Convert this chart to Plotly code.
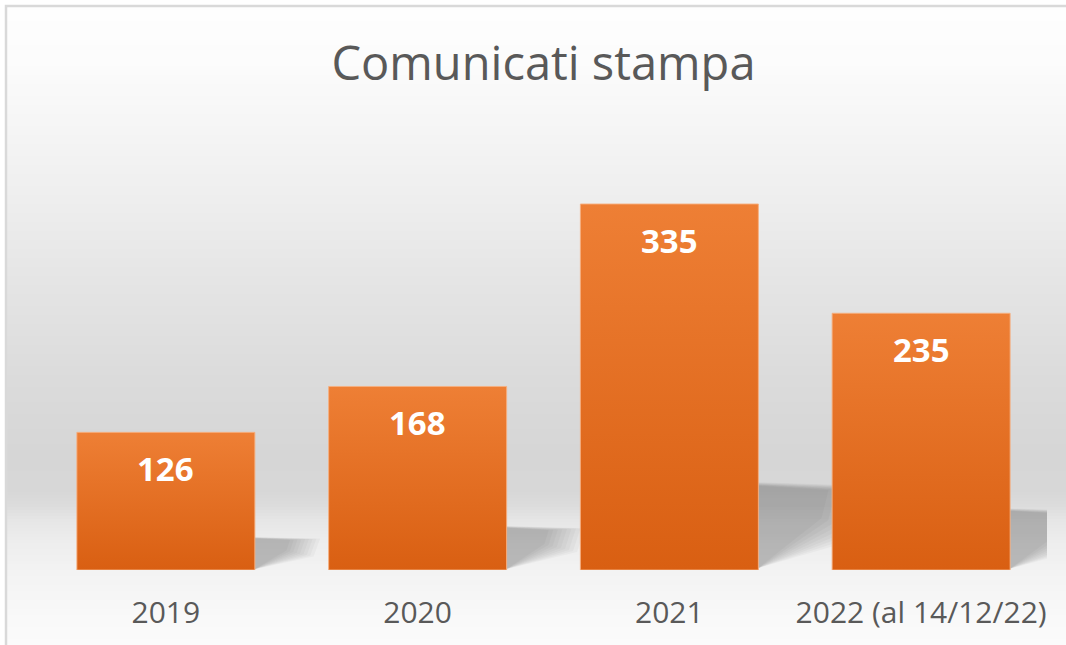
import numpy as np
import plotly.graph_objects as go

# ---------------- data ----------------
categories = ["2019", "2020", "2021", "2022 (al 14/12/22)"]
values = [126, 168, 335, 235]
value_labels = ["126", "168", "335", "235"]
title_text = "Comunicati stampa"

# ---------------- layout constants ----------------
W, H = 1066, 645
ML, MR, MT, MB = 40, 19, 133, 75
PW, PH = W - ML - MR, H - MT - MB
YMAX = 400
BAR_W = 0.707
FONT = "Open Sans"
TEXT_GREY = "#595959"
BAR_TOP = "#EE7F35"
BAR_BOTTOM = "#D95F12"


def paper_y(pix):
    return (H - MB - pix) / PH


def paper_x(pix):
    return (pix - ML) / PW


shapes = []

# background vertical gradient (Excel-like), drawn as thin strips
stops_y = [6, 60, 100, 200, 300, 380, 450, 490, 505, 520, 545, 580, 620, 645]
stops_g = [254, 252, 248, 238, 227, 219, 214, 215, 220, 230, 238, 244, 249, 251]
step = 3
for y in range(6, H, step):
    g = int(round(np.interp(y + step / 2, stops_y, stops_g)))
    shapes.append(dict(type="rect", xref="paper", yref="paper",
                       x0=paper_x(6), x1=paper_x(W + 60),
                       y0=paper_y(y + step + 0.5), y1=paper_y(y),
                       fillcolor=f"rgb({g},{g},{g})", line=dict(width=0),
                       layer="below"))

# chart border (left and top edges visible)
shapes.append(dict(type="rect", xref="paper", yref="paper",
                   x0=paper_x(6), x1=paper_x(W + 60),
                   y0=paper_y(H + 60), y1=paper_y(6),
                   line=dict(color="#d9d9d9", width=2.5),
                   fillcolor="rgba(0,0,0,0)", layer="below"))

# soft perspective shadows to the right of each bar (layered for blur)
for i, v in enumerate(values):
    xr = i + BAR_W / 2
    e = 0.08 + 0.00095 * v
    n = 9
    for k in range(n):
        s = 1.3 - 0.6 * k / (n - 1)   # outer (large) -> inner (small)
        top = 0.235 * v * (0.93 + 0.07 * s)
        bot = 0.12 * v * (1.6 - 0.6 * s)
        path = (f"M {xr} {0.005 * v} "
                f"L {xr} {top} "
                f"L {xr + e * s} {top * 0.95} "
                f"L {xr + e * s * 0.9} {bot} Z")
        shapes.append(dict(type="path", xref="x", yref="y", path=path,
                           fillcolor="rgba(0,0,0,0.026)", line=dict(width=0),
                           layer="below"))

fig = go.Figure()

# bars with vertical gradient fill
for i, v in enumerate(values):
    x0, x1 = i - BAR_W / 2, i + BAR_W / 2
    fig.add_trace(go.Scatter(
        x=[x0, x1, x1, x0, x0], y=[0, 0, v, v, 0],
        mode="lines", fill="toself",
        line=dict(width=1, color="rgba(246,175,128,0.9)"),
        fillcolor=BAR_TOP,
        fillgradient=dict(type="vertical",
                          colorscale=[[0, BAR_BOTTOM], [1, BAR_TOP]]),
        hoverinfo="skip", showlegend=False, name=categories[i]))

annotations = []
for i, (v, lab) in enumerate(zip(values, value_labels)):
    annotations.append(dict(x=i, y=v, xref="x", yref="y", text=lab,
                            showarrow=False, yanchor="middle", yshift=-36,
                            font=dict(family=FONT, size=33, color="white",
                                      weight="bold")))

fig.update_layout(
    width=W, height=H,
    margin=dict(l=ML, r=MR, t=MT, b=MB, pad=0),
    paper_bgcolor="white",
    plot_bgcolor="rgba(0,0,0,0)",
    title=dict(text=title_text, x=0.5, xref="paper", xanchor="center",
               y=1 - 64 / H, yref="container", yanchor="middle",
               font=dict(family=FONT, size=47, color=TEXT_GREY)),
    xaxis=dict(range=[-0.5, 3.5], tickvals=list(range(len(categories))),
               ticktext=categories, showgrid=False, zeroline=False,
               showline=False, ticks="", ticklabelstandoff=22,
               tickfont=dict(family=FONT, size=30, color=TEXT_GREY),
               fixedrange=True),
    yaxis=dict(range=[0, YMAX], visible=False, fixedrange=True),
    shapes=shapes,
    annotations=annotations,
    showlegend=False,
)

fig.write_html("out.html",
               config={"displayModeBar": False},
               post_script="document.body.style.margin='0';"
                           "document.body.style.overflow='hidden';")
